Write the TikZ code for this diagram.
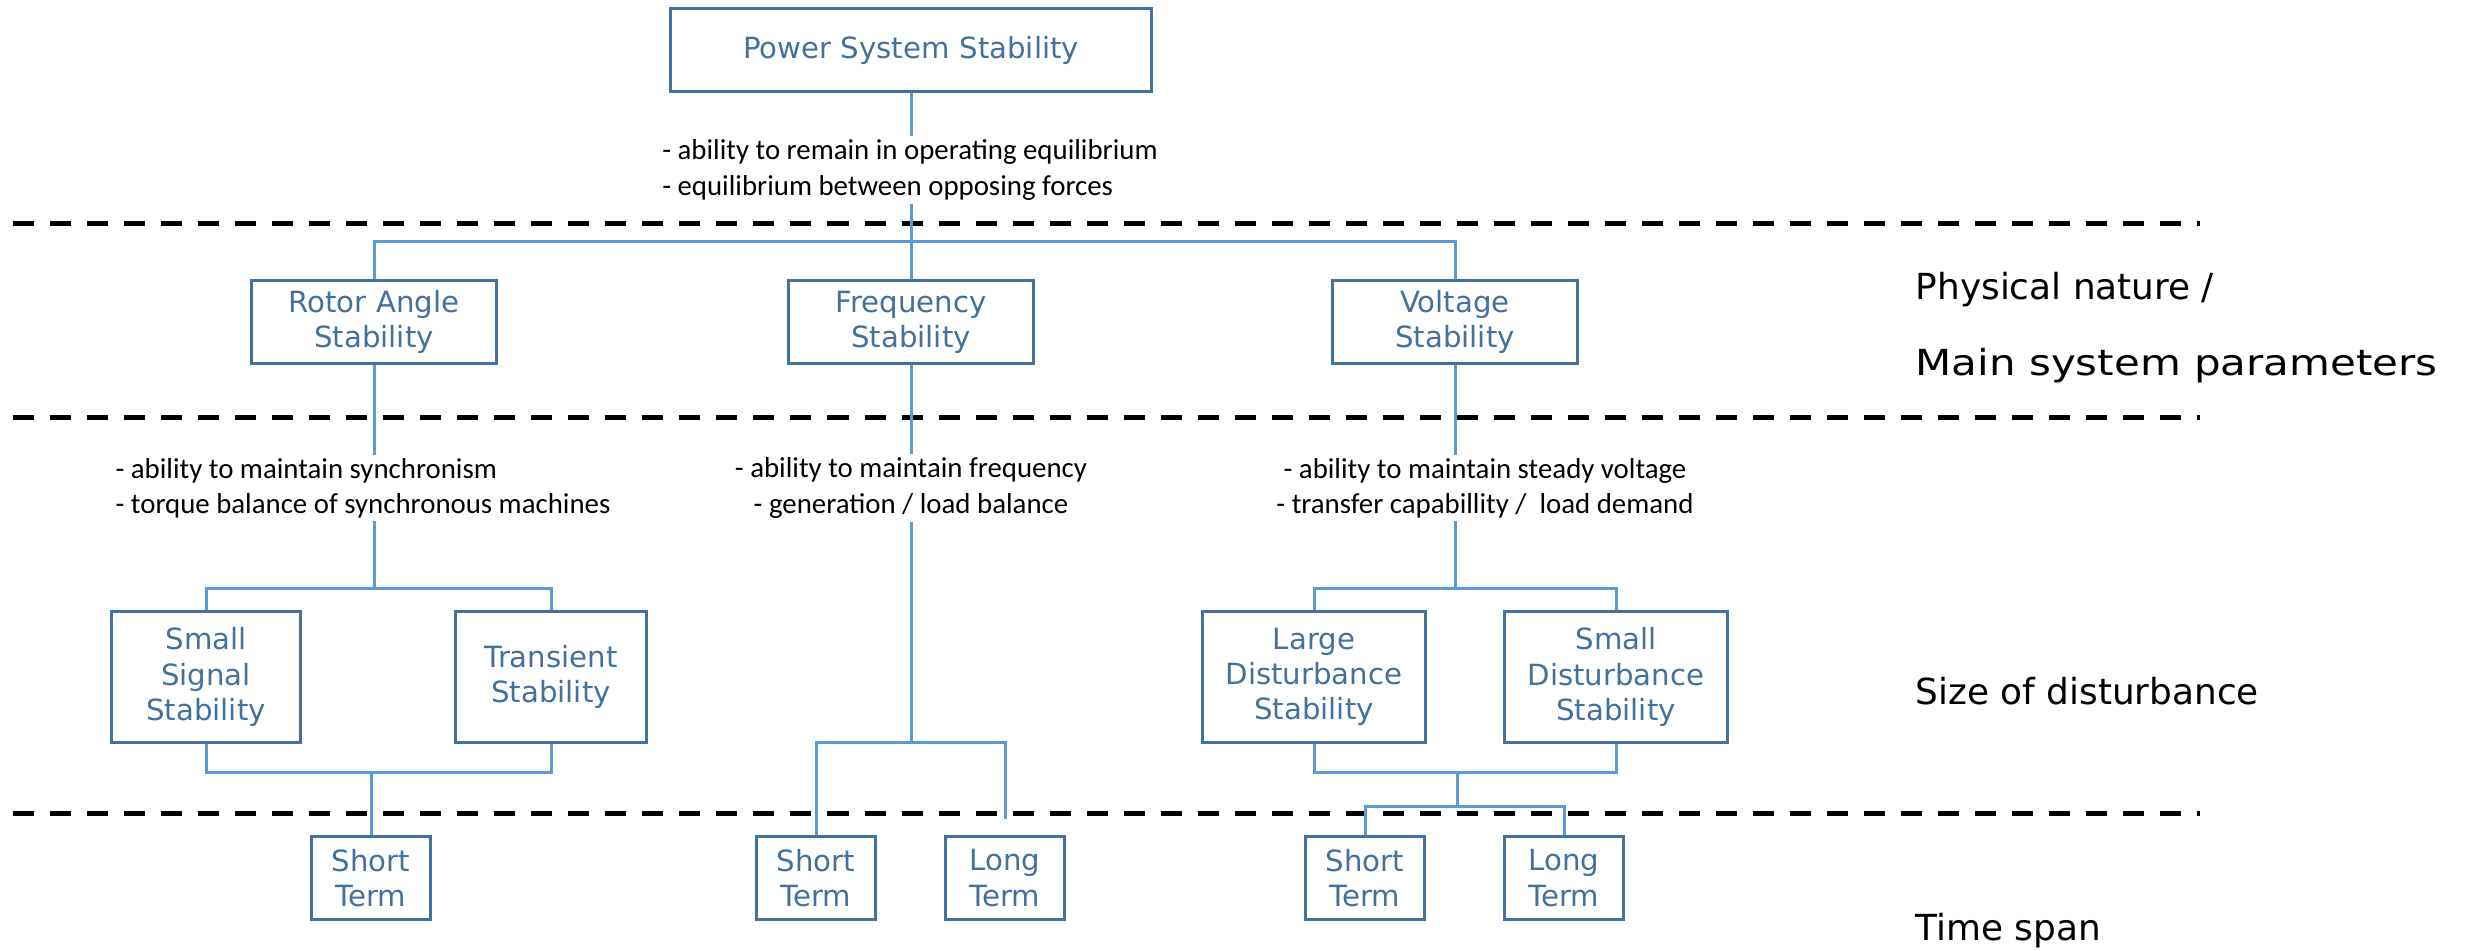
\documentclass[tikz,border=0pt]{standalone}
\usepackage{graphicx}
\usepackage{fontspec}
\newfontfamily\boxfont{DejaVu Sans}
\newfontfamily\notefont{Carlito}
\newfontfamily\levelfont{DejaVu Sans}
\definecolor{boxblue}{HTML}{41719C}
\definecolor{linkblue}{HTML}{5B9BD5}
\begin{document}
\begin{tikzpicture}[x=0.01cm, y=-0.01cm,
  stab/.style={draw=boxblue, line width=0.03cm, text=boxblue, align=center,
    inner sep=0pt, font=\boxfont\fontsize{8.3}{10}\selectfont},
  link/.style={draw=linkblue, line width=0.03cm},
  note/.style={fill=white, inner sep=1pt, text=black,
    font=\notefont\fontsize{8.2}{10}\selectfont},
  level/.style={anchor=west, align=left, inner sep=0pt,
    font=\levelfont\fontsize{10.2}{12}\selectfont},
  divider/.style={draw=black, line width=0.05cm, dash pattern=on 0.21cm off 0.16cm}]

\useasboundingbox (0,0) rectangle (2468,950);

% level dividers
\draw[divider] (13,223) -- (2200,223);
\draw[divider] (13,417) -- (2200,417);
\draw[divider] (13,813) -- (2200,813);

% boxes
\node[stab, text width=4.81cm, minimum height=0.83cm] (pss) at (911,50) {Power System Stability};

\node[stab, text width=2.44cm, minimum height=0.83cm] (rotor) at (374,322) {Rotor Angle\\Stability};
\node[stab, text width=2.44cm, minimum height=0.83cm] (freq) at (911,322) {Frequency\\Stability};
\node[stab, text width=2.44cm, minimum height=0.83cm] (volt) at (1455,322) {Voltage\\Stability};

\node[stab, text width=1.88cm, minimum height=1.30cm] (sss) at (206,677) {Small\\Signal\\Stability};
\node[stab, text width=1.90cm, minimum height=1.30cm] (trans) at (551,677) {Transient\\Stability};
\node[stab, text width=2.22cm, minimum height=1.30cm] (lds) at (1314,677) {Large\\Disturbance\\Stability};
\node[stab, text width=2.22cm, minimum height=1.30cm] (sds) at (1616,677) {Small\\Disturbance\\Stability};

\node[stab, text width=1.19cm, minimum height=0.83cm] (rshort) at (371,878) {Short\\Term};
\node[stab, text width=1.19cm, minimum height=0.83cm] (fshort) at (816,878) {Short\\Term};
\node[stab, text width=1.19cm, minimum height=0.83cm] (flong) at (1005,878) {Long\\Term};
\node[stab, text width=1.19cm, minimum height=0.83cm] (vshort) at (1365,878) {Short\\Term};
\node[stab, text width=1.19cm, minimum height=0.83cm] (vlong) at (1564,878) {Long\\Term};

% first split: physical nature
\draw[link] (pss.south) -- (freq.north);
\draw[link] (rotor.north) -- (374,241) -- (1455,241) -- (volt.north);

% rotor angle branch
\draw[link] (rotor.south) -- (374,588);
\draw[link] (sss.north) -- (206,588) -- (551,588) -- (trans.north);
\draw[link] (sss.south) -- (206,772) -- (551,772) -- (trans.south);
\draw[link] (371,772) -- (rshort.north);

% frequency branch
\coordinate (fend) at (1005,819);
\draw[link] (freq.south) -- (911,742);
\draw[link] (fshort.north) -- (816,742) -- (1005,742) -- (fend);

% voltage branch
\draw[link] (volt.south) -- (1455,588);
\draw[link] (lds.north) -- (1314,588) -- (1616,588) -- (sds.north);
\draw[link] (lds.south) -- (1314,772) -- (1616,772) -- (sds.south);
\draw[link] (1457,772) -- (1457,806);
\draw[link] (vshort.north) -- (1365,806) -- (1564,806) -- (vlong.north);

% notes
\node[note, align=left] (n0) at (910,170) {- ability to remain in operating equilibrium\\- equilibrium between opposing forces};
\node[note, align=left] (n1) at (363,488) {- ability to maintain synchronism\\- torque balance of synchronous machines};
\node[note, align=center] (n2) at (911,488) {- ability to maintain frequency\\- generation / load balance};
\node[note, align=center] (n3) at (1485,488) {- ability to maintain steady voltage\\- transfer capabillity /\ \ load demand};

% level labels
\node[level] (l1) at (1915,290) {Physical nature /};
\node[level] (l1b) at (1915,366) {\scalebox{1.17}[1]{Main system parameters}};
\node[level] (l2) at (1915,691) {Size of disturbance};
\node[level] (l3) at (1915,931) {Time span};
\end{tikzpicture}
\end{document}
